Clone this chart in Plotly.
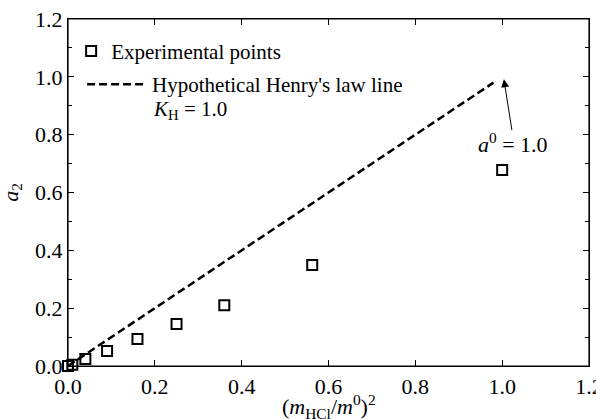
import plotly.graph_objects as go

# Data
x_exp = [0.0, 0.01, 0.04, 0.09, 0.16, 0.25, 0.36, 0.5625, 1.0]
y_exp = [0.0, 0.004, 0.024, 0.052, 0.093, 0.145, 0.21, 0.349, 0.678]
x_henry = [0.0, 0.98]
y_henry = [0.0, 0.98]
x_ticks = [0.0, 0.2, 0.4, 0.6, 0.8, 1.0, 1.2]
y_ticks = [0.0, 0.2, 0.4, 0.6, 0.8, 1.0, 1.2]
x_range = [0.0, 1.2]
y_range = [0.0, 1.2]

FONT = "Liberation Serif, Times New Roman, serif"
FS = 22
FL = 21

fig = go.Figure()
fig.add_trace(go.Scatter(
    x=x_exp, y=y_exp, mode="markers", name="Experimental points",
    marker=dict(symbol="square-open", size=10, color="black", line=dict(width=2, color="black")),
    cliponaxis=False, legend="legend",
))
fig.add_trace(go.Scatter(
    x=x_henry, y=y_henry, mode="lines", name="Hypothetical Henry's law line",
    line=dict(color="black", width=2.5, dash="8px,4px"), legend="legend2",
))

fig.add_annotation(x=0.16, y=0.738, xref="paper", yref="paper",
                   text="<i>K</i><sub>H</sub> = 1.0", showarrow=False,
                   xanchor="left", yanchor="middle", font=dict(size=FL, family=FONT, color="black"))
fig.add_annotation(x=1.004, y=0.992, ax=1.023, ay=0.81, xref="x", yref="y", axref="x", ayref="y",
                   text="", showarrow=True, arrowhead=2, arrowsize=1.6, arrowwidth=1, arrowcolor="black")
fig.add_annotation(x=1.025, y=0.77, xref="x", yref="y",
                   text="<i>a</i><sup>0</sup> = 1.0", showarrow=False,
                   xanchor="center", yanchor="middle", font=dict(size=FS, family=FONT, color="black"))

# axis titles
fig.add_annotation(x=0.5, y=-0.118, xref="paper", yref="paper",
                   text="(<i>m</i><sub>HCl</sub>/<i>m</i><sup>0</sup>)<sup>2</sup>", showarrow=False,
                   xanchor="center", yanchor="middle", font=dict(size=FS, family=FONT, color="black"))
fig.add_annotation(x=-0.109, y=0.5, xref="paper", yref="paper",
                   text="<i>a</i><sub>2</sub>", showarrow=False, textangle=-90,
                   xanchor="center", yanchor="middle", font=dict(size=FS, family=FONT, color="black"))

# plot frame along the axis ranges
fig.add_shape(type="rect", xref="x", yref="y",
              x0=x_range[0], y0=y_range[0], x1=x_range[1], y1=y_range[1],
              line=dict(color="black", width=1.2), fillcolor="rgba(0,0,0,0)", layer="above")

axis_common = dict(
    showgrid=False, zeroline=False, showline=True, linecolor="black", linewidth=1.2,
    mirror="all", ticks="inside", ticklen=6, tickcolor="black", tickwidth=1,
    tickfont=dict(size=FS, family=FONT, color="black"), tickformat=".1f", automargin=False,
    ticklabeloverflow="allow",
)
fig.update_xaxes(range=x_range, tickvals=x_ticks, **axis_common)
fig.update_yaxes(range=y_range, tickvals=y_ticks, **axis_common,
                 minor=dict(ticks="inside", ticklen=4, tickcolor="black", dtick=0.1, showgrid=False))

leg_common = dict(xanchor="left", yanchor="top", bgcolor="rgba(0,0,0,0)",
                  font=dict(size=FL, family=FONT, color="black"), tracegroupgap=0)
fig.update_layout(
    width=596, height=419,
    margin=dict(l=68, r=7, t=19, b=53),
    paper_bgcolor="white", plot_bgcolor="white",
    font=dict(family=FONT, color="black", size=FS),
    showlegend=True,
    legend=dict(x=0.006, y=0.966, itemwidth=30, **leg_common),
    legend2=dict(x=0.027, y=0.87, itemwidth=60, **leg_common),
)

fig.write_html("out.html", config={"displayModeBar": False},
               post_script="document.body.style.margin='0';")
